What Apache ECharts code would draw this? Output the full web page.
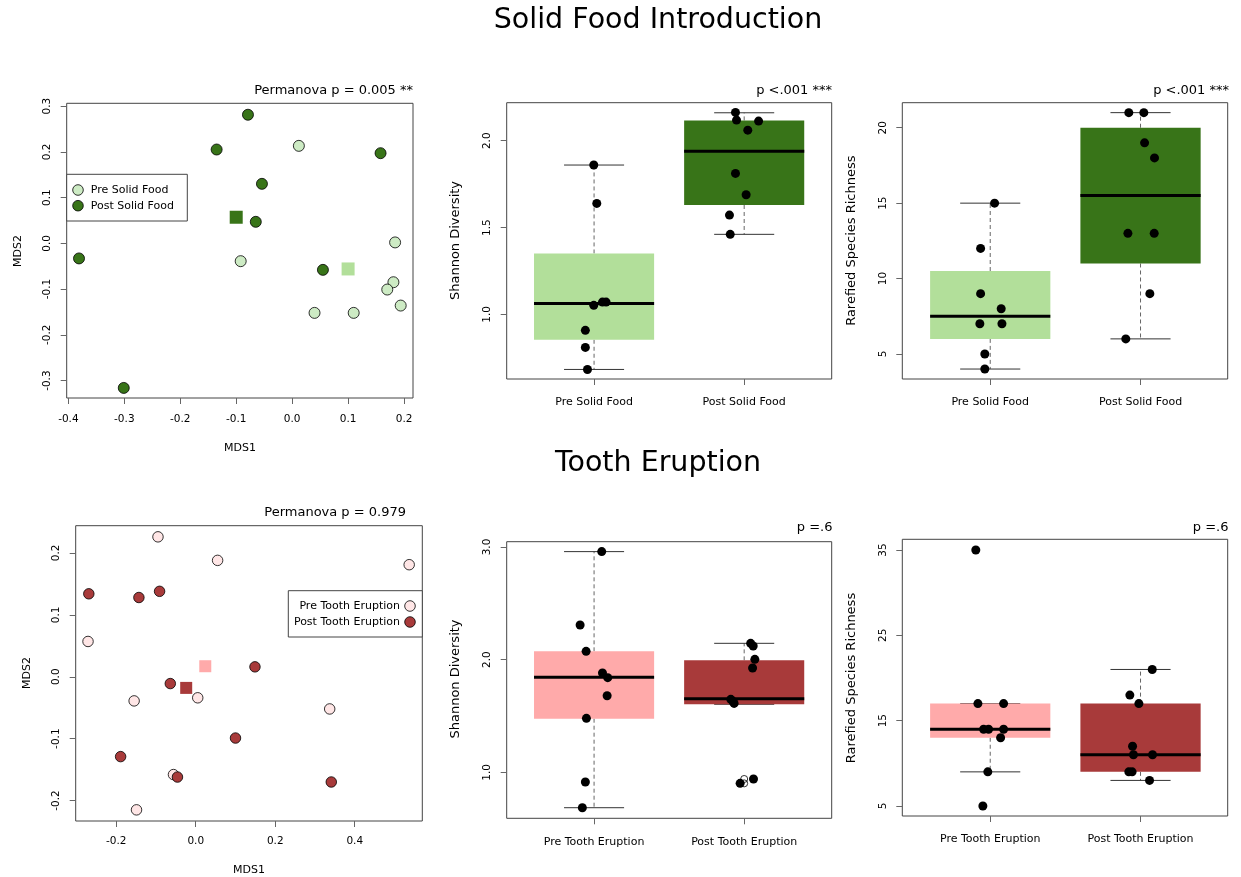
<!DOCTYPE html>
<html>
<head>
<meta charset="utf-8">
<script src="https://cdn.jsdelivr.net/npm/echarts@6/dist/echarts.min.js"></script>
<style>
  html, body { margin: 0; padding: 0; background: #fff; }
  #chart { width: 1241px; height: 877px; }
</style>
</head>
<body>
<div id="chart"></div>
<script>
// ---- data ----
const solidGroups = ['Pre Solid Food', 'Post Solid Food'];
const toothGroups = ['Pre Tooth Eruption', 'Post Tooth Eruption'];

// NMDS ordination points [MDS1, MDS2]
const solidPreMds = [[0.012, 0.213], [-0.092, -0.039], [0.184, 0.002], [0.181, -0.085],
  [0.170, -0.101], [0.194, -0.136], [0.040, -0.152], [0.110, -0.152]];
const solidPostMds = [[-0.079, 0.281], [-0.135, 0.205], [0.158, 0.197], [-0.054, 0.130],
  [-0.065, 0.047], [-0.381, -0.033], [0.055, -0.058], [-0.301, -0.316]];
const solidCentroids = [[0.100, -0.056], [-0.100, 0.057]];

const toothPreMds = [[-0.095, 0.226], [0.055, 0.188], [0.537, 0.181], [-0.271, 0.057],
  [-0.155, -0.039], [0.005, -0.034], [0.337, -0.052], [-0.056, -0.158], [-0.149, -0.215]];
const toothPostMds = [[-0.269, 0.134], [-0.143, 0.128], [-0.091, 0.138], [-0.064, -0.011],
  [0.149, 0.016], [0.100, -0.099], [-0.189, -0.129], [-0.046, -0.162], [0.341, -0.170]];
const toothCentroids = [[0.024, 0.017], [-0.024, -0.018]];

// box stats [x, whiskerLow, q1, median, q3, whiskerHigh]
const solidShannonBox = [[1, 0.683, 0.854, 1.063, 1.351, 1.860], [2, 1.461, 1.630, 1.939, 2.117, 2.161]];
const solidRichBox = [[1, 4, 6, 7.5, 10.5, 15], [2, 6, 11, 15.5, 20, 21]];
const toothShannonBox = [[1, 0.686, 1.476, 1.843, 2.074, 2.959], [2, 1.604, 1.604, 1.654, 1.994, 2.145]];
const toothRichBox = [[1, 9, 13, 14, 17, 17], [2, 8, 9, 11, 17, 21]];

// jittered sample points [x, value]
const solidShannonPre = [[0.998, 1.860], [1.018, 1.639], [0.998, 1.052], [1.056, 1.071],
  [1.080, 1.071], [0.942, 0.908], [0.942, 0.810], [0.956, 0.683]];
const solidShannonPost = [[1.942, 2.163], [1.949, 2.119], [2.096, 2.113], [2.024, 2.061],
  [1.942, 1.812], [2.013, 1.689], [1.902, 1.572], [1.907, 1.461]];
const solidRichPre = [[1.029, 15], [0.936, 12], [0.936, 9], [1.073, 8], [0.931, 7],
  [1.078, 7], [0.964, 5], [0.964, 4]];
const solidRichPost = [[1.922, 21], [2.022, 21], [2.027, 19], [2.093, 18], [1.916, 13],
  [2.091, 13], [2.062, 9], [1.902, 6]];
const toothShannonPre = [[1.051, 2.959], [0.907, 2.308], [0.947, 2.074], [1.056, 1.882],
  [1.091, 1.840], [1.087, 1.680], [0.949, 1.479], [0.942, 0.914], [0.922, 0.686]];
const toothShannonPost = [[2.043, 2.145], [2.060, 2.121], [2.071, 2.003], [2.056, 1.926],
  [1.911, 1.648], [1.925, 1.630], [1.933, 1.612], [1.973, 0.902], [2.062, 0.941]];
const toothShannonOut = [[2, 0.902], [2, 0.941]];
const toothRichPre = [[0.904, 35], [0.918, 17], [1.089, 17], [0.956, 14], [0.989, 14],
  [1.089, 14], [1.069, 13], [0.984, 9], [0.951, 5]];
const toothRichPost = [[2.078, 21], [1.929, 18], [1.989, 17], [1.947, 12], [1.953, 11],
  [2.080, 11], [1.922, 9], [1.944, 9], [2.060, 8]];

// tick values
const solidMdsXTicks = [-0.4, -0.3, -0.2, -0.1, 0.0, 0.1, 0.2];
const solidMdsYTicks = [-0.3, -0.2, -0.1, 0.0, 0.1, 0.2, 0.3];
const toothMdsXTicks = [-0.2, 0.0, 0.2, 0.4];
const toothMdsYTicks = [-0.2, -0.1, 0.0, 0.1, 0.2];
const solidShannonTicks = [1.0, 1.5, 2.0];
const solidRichTicks = [5, 10, 15, 20];
const toothShannonTicks = [1.0, 2.0, 3.0];
const toothRichTicks = [5, 15, 25, 35];

// ---- styling ----
const FONT = 'DejaVu Sans';
const greenLight = '#B2DF9A', greenDark = '#387418', greenPale = '#CDEBC4';
const pinkLight = '#FFAAAA', redDark = '#A83A3A', pinkPale = '#FFE6E6';

const grids = [
  { left: 66.7, top: 103.3, width: 346.3, height: 294.7 },
  { left: 506.7, top: 102.7, width: 325, height: 276.3 },
  { left: 902.3, top: 102.7, width: 325.4, height: 276.3 },
  { left: 75.7, top: 525.7, width: 346.6, height: 295.3 },
  { left: 506.7, top: 541.7, width: 325, height: 276.6 },
  { left: 902.3, top: 539.3, width: 325.4, height: 276.7 }
].map(g => Object.assign({ show: true, borderColor: '#444', borderWidth: 1, containLabel: false }, g));

function axis(dim, gi, min, max, ticks, fmt, margin, fontSize) {
  return {
    type: 'value', gridIndex: gi, min: min, max: max,
    splitLine: { show: false }, axisLine: { show: false, onZero: false },
    axisTick: { show: true, length: 6, customValues: ticks, lineStyle: { color: '#666' } },
    axisLabel: {
      customValues: ticks, formatter: fmt, rotate: dim === 'y' ? 90 : 0,
      margin: margin, color: '#000', fontFamily: FONT, fontSize: fontSize || 10.5
    }
  };
}
const f1 = v => v.toFixed(1);
const fi = v => String(Math.round(v));
const catFmt = names => v => names[Math.round(v) - 1] || '';

const xAxes = [
  axis('x', 0, -0.403, 0.216, solidMdsXTicks, f1, 16),
  axis('x', 1, 0.418, 2.583, [1, 2], catFmt(solidGroups), 18, 11),
  axis('x', 2, 0.415, 2.58, [1, 2], catFmt(solidGroups), 18, 11),
  axis('x', 3, -0.302, 0.570, toothMdsXTicks, f1, 15),
  axis('x', 4, 0.418, 2.583, [1, 2], catFmt(toothGroups), 18, 11),
  axis('x', 5, 0.415, 2.58, [1, 2], catFmt(toothGroups), 18, 11)
];
const yAxes = [
  axis('y', 0, -0.338, 0.306, solidMdsYTicks, f1, 14),
  axis('y', 1, 0.628, 2.219, solidShannonTicks, f1, 14),
  axis('y', 2, 3.34, 21.66, solidRichTicks, fi, 14),
  axis('y', 3, -0.233, 0.244, toothMdsYTicks, f1, 14),
  axis('y', 4, 0.592, 3.047, toothShannonTicks, f1, 14),
  axis('y', 5, 3.83, 36.25, toothRichTicks, fi, 14)
];

function boxSeries(gi, data, colors) {
  return {
    type: 'custom', xAxisIndex: gi, yAxisIndex: gi, data: data, z: 2,
    encode: { x: 0, y: [1, 2, 3, 4, 5] },
    renderItem: function (params, api) {
      const x = api.value(0);
      const lo = api.coord([x, api.value(1)]);
      const q1 = api.coord([x, api.value(2)]);
      const md = api.coord([x, api.value(3)]);
      const q3 = api.coord([x, api.value(4)]);
      const hi = api.coord([x, api.value(5)]);
      const half = api.size([0.4, 0])[0];
      const cap = api.size([0.2, 0])[0];
      const cx = lo[0];
      const dash = { stroke: '#666', lineWidth: 1, lineDash: [4, 3] };
      const solid = { stroke: '#333', lineWidth: 1 };
      return {
        type: 'group', children: [
          { type: 'line', shape: { x1: cx, y1: q3[1], x2: cx, y2: hi[1] }, style: dash },
          { type: 'line', shape: { x1: cx, y1: q1[1], x2: cx, y2: lo[1] }, style: dash },
          { type: 'line', shape: { x1: cx - cap, y1: hi[1], x2: cx + cap, y2: hi[1] }, style: solid },
          { type: 'line', shape: { x1: cx - cap, y1: lo[1], x2: cx + cap, y2: lo[1] }, style: solid },
          { type: 'rect', shape: { x: cx - half, y: q3[1], width: 2 * half, height: q1[1] - q3[1] },
            style: { fill: colors[params.dataIndex] } },
          { type: 'line', shape: { x1: cx - half, y1: md[1], x2: cx + half, y2: md[1] },
            style: { stroke: '#000', lineWidth: 3 } }
        ]
      };
    }
  };
}

function dots(gi, data) {
  return { type: 'scatter', xAxisIndex: gi, yAxisIndex: gi, data: data, z: 4,
    symbol: 'circle', symbolSize: 9, itemStyle: { color: '#000', opacity: 1 }, silent: true };
}
function mdsPts(gi, data, fill, size) {
  return { type: 'scatter', xAxisIndex: gi, yAxisIndex: gi, data: data, z: 3,
    symbol: 'circle', symbolSize: size,
    itemStyle: { color: fill, borderColor: '#000', borderWidth: 0.8, opacity: 1 } };
}
function centroids(gi, data, colors, size) {
  return { type: 'scatter', xAxisIndex: gi, yAxisIndex: gi, z: 3, symbol: 'rect', symbolSize: size,
    data: data.map((d, i) => ({ value: d, itemStyle: { color: colors[i], opacity: 1 } })) };
}

const series = [
  centroids(0, solidCentroids, [greenLight, greenDark], 13),
  mdsPts(0, solidPreMds, greenPale, 11),
  mdsPts(0, solidPostMds, greenDark, 11),
  boxSeries(1, solidShannonBox, [greenLight, greenDark]),
  dots(1, solidShannonPre), dots(1, solidShannonPost),
  boxSeries(2, solidRichBox, [greenLight, greenDark]),
  dots(2, solidRichPre), dots(2, solidRichPost),
  centroids(3, toothCentroids, [pinkLight, redDark], 12),
  mdsPts(3, toothPreMds, pinkPale, 10.5),
  mdsPts(3, toothPostMds, redDark, 10.5),
  boxSeries(4, toothShannonBox, [pinkLight, redDark]),
  { type: 'scatter', xAxisIndex: 4, yAxisIndex: 4, data: toothShannonOut, z: 3, symbol: 'circle',
    symbolSize: 7, itemStyle: { color: 'rgba(0,0,0,0)', borderColor: '#000', borderWidth: 0.8, opacity: 1 } },
  dots(4, toothShannonPre), dots(4, toothShannonPost),
  boxSeries(5, toothRichBox, [pinkLight, redDark]),
  dots(5, toothRichPre), dots(5, toothRichPost)
];

// ---- text & legends ----
function txt(text, x, y, size, align, rot) {
  return { type: 'text', x: x, y: y, rotation: rot || 0, z: 10,
    style: { text: text, fill: '#000', fontFamily: FONT, fontSize: size,
      textAlign: align || 'center', textVerticalAlign: 'middle' } };
}
const V = Math.PI / 2;
const graphics = [
  txt('Solid Food Introduction', 658, 21, 28.5),
  txt('Tooth Eruption', 658, 464, 28.5),
  txt('Permanova p = 0.005 **', 413, 90.5, 13, 'right'),
  txt('Permanova p = 0.979', 406, 513, 13, 'right'),
  txt('p <.001 ***', 832, 91, 13, 'right'),
  txt('p <.001 ***', 1229, 91, 13, 'right'),
  txt('p =.6', 832.5, 527.5, 13, 'right'),
  txt('p =.6', 1228.5, 527.5, 13, 'right'),
  txt('MDS1', 240, 448, 11),
  txt('MDS2', 18, 251, 11, 'center', V),
  txt('MDS1', 249, 870, 11),
  txt('MDS2', 26.7, 673, 11, 'center', V),
  txt('Shannon Diversity', 456, 240.5, 13, 'center', V),
  txt('Rarefied Species Richness', 852, 240.7, 13, 'center', V),
  txt('Shannon Diversity', 456, 679, 13, 'center', V),
  txt('Rarefied Species Richness', 852, 678, 13, 'center', V),
  // legend: solid food
  { type: 'rect', z: 9, shape: { x: 66.7, y: 174.3, width: 120.6, height: 46.7 },
    style: { fill: '#fff', stroke: '#444', lineWidth: 1 } },
  { type: 'circle', z: 10, shape: { cx: 78, cy: 190, r: 5.3 }, style: { fill: greenPale, stroke: '#000', lineWidth: 0.8 } },
  { type: 'circle', z: 10, shape: { cx: 78, cy: 205.7, r: 5.3 }, style: { fill: greenDark, stroke: '#000', lineWidth: 0.8 } },
  txt(solidGroups[0], 90.7, 190, 11, 'left'),
  txt(solidGroups[1], 90.7, 205.7, 11, 'left'),
  // legend: tooth eruption
  { type: 'rect', z: 9, shape: { x: 288.3, y: 590.7, width: 134, height: 46.3 },
    style: { fill: '#fff', stroke: '#444', lineWidth: 1 } },
  { type: 'circle', z: 10, shape: { cx: 410, cy: 606, r: 5.3 }, style: { fill: pinkPale, stroke: '#000', lineWidth: 0.8 } },
  { type: 'circle', z: 10, shape: { cx: 410, cy: 622, r: 5.3 }, style: { fill: redDark, stroke: '#000', lineWidth: 0.8 } },
  txt(toothGroups[0], 400, 606, 11, 'right'),
  txt(toothGroups[1], 400, 622, 11, 'right')
];

const chart = echarts.init(document.getElementById('chart'), null, { renderer: 'canvas' });
chart.setOption({
  animation: false,
  backgroundColor: '#fff',
  textStyle: { fontFamily: FONT },
  grid: grids,
  xAxis: xAxes,
  yAxis: yAxes,
  series: series,
  graphic: graphics
});
</script>
</body>
</html>
